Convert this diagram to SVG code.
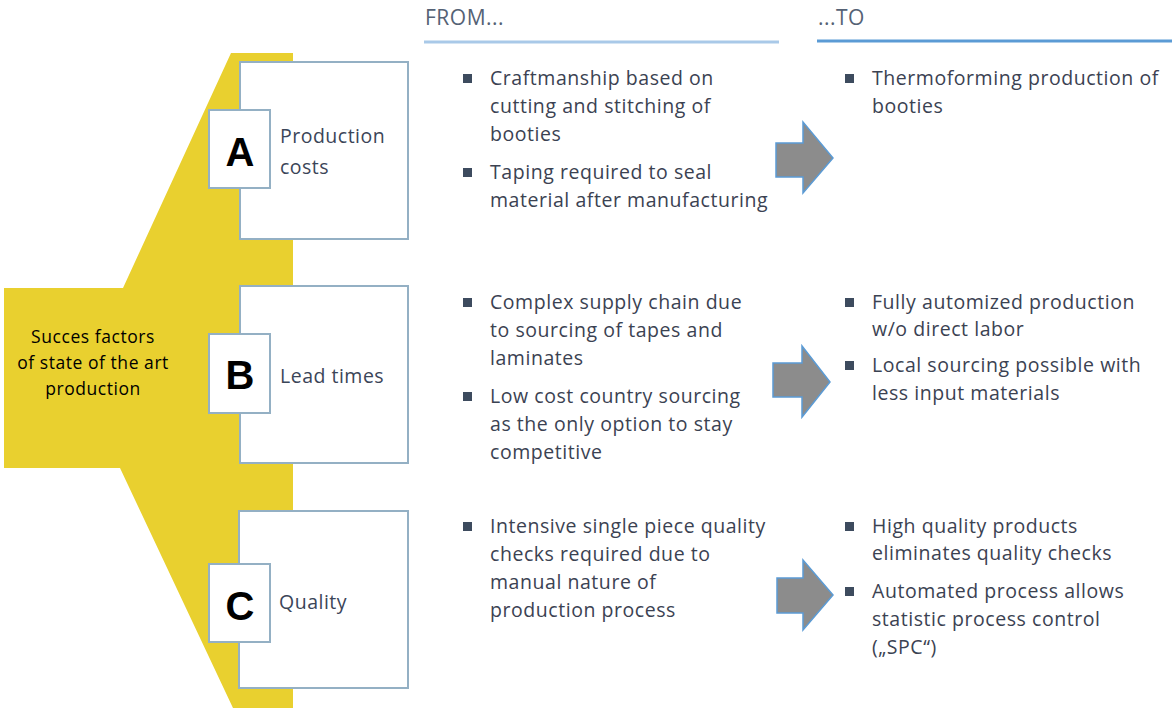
<svg xmlns="http://www.w3.org/2000/svg" width="1172" height="709" viewBox="0 0 1172 709">
<style>
.box{fill:#fff;stroke:#94b0c4;stroke-width:2}
.badge{fill:#fff;stroke:#94b0c4;stroke-width:2}
.letter{font-family:"Liberation Sans",Arial,sans-serif;font-weight:bold;font-size:40px;fill:#000;text-anchor:middle}
.lbl{font-family:"Open Sans","Liberation Sans",sans-serif;font-size:19.5px;letter-spacing:0.5px;fill:#3b4558}
.txt{font-family:"Open Sans","Liberation Sans",sans-serif;font-size:19.5px;letter-spacing:0.55px;fill:#3b4252}
.hdr{font-family:"Open Sans","Liberation Sans",sans-serif;font-size:21px;letter-spacing:0.5px;fill:#556275}
.side{font-family:"Open Sans","Liberation Sans",sans-serif;font-size:17.5px;letter-spacing:0.55px;fill:#000;text-anchor:middle}
.bul{fill:#3d4b5e}
.arrow{fill:#8c8c8c;stroke:#5b9bd5;stroke-width:1.5}
</style>
<rect width="1172" height="709" fill="#fff"/>
<g id="factor-shape">
<polygon points="231,53 293,53 293,708 233,708 120,468 4,468 4,288 123,288" fill="#e9d02f"/>
<text class="side" x="93" y="343">Succes factors</text>
<text class="side" x="93" y="369">of state of the art</text>
<text class="side" x="93" y="395">production</text>
</g>
<g id="headers">
<text class="hdr" x="425" y="25">FROM...</text>
<line x1="424" y1="42" x2="779" y2="42" stroke="#a9c9e8" stroke-width="3"/>
<text class="hdr" x="818" y="25">...TO</text>
<line x1="817" y1="41" x2="1172" y2="41" stroke="#5b9bd5" stroke-width="3"/>
</g>
<g id="node-a">
<rect class="box" x="240" y="62" width="168" height="177"/>
<rect class="badge" x="209" y="110" width="61" height="78"/>
<text class="letter" x="240" y="166">A</text>
<text class="lbl" x="280" y="143">Production</text>
<text class="lbl" x="280" y="174">costs</text>
</g>
<g id="node-b">
<rect class="box" x="240" y="286" width="168" height="177"/>
<rect class="badge" x="209" y="334" width="61" height="79"/>
<text class="letter" x="240" y="389">B</text>
<text class="lbl" x="280" y="383">Lead times</text>
</g>
<g id="node-c">
<rect class="box" x="239" y="511" width="169" height="177"/>
<rect class="badge" x="209" y="564" width="61" height="78"/>
<text class="letter" x="240" y="620">C</text>
<text class="lbl" x="279" y="609">Quality</text>
</g>
<g id="from-a">
<rect class="bul" x="463" y="74" width="9" height="9"/>
<text class="txt" x="490" y="85">Craftmanship based on</text>
<text class="txt" x="490" y="113">cutting and stitching of</text>
<text class="txt" x="490" y="141">booties</text>
<rect class="bul" x="463" y="168" width="9" height="9"/>
<text class="txt" x="490" y="179">Taping required to seal</text>
<text class="txt" x="490" y="207">material after manufacturing</text>
</g>
<g id="to-a">
<rect class="bul" x="845" y="74" width="9" height="9"/>
<text class="txt" x="872" y="85">Thermoforming production of</text>
<text class="txt" x="872" y="113">booties</text>
</g>
<g id="from-b">
<rect class="bul" x="463" y="298" width="9" height="9"/>
<text class="txt" x="490" y="309">Complex supply chain due</text>
<text class="txt" x="490" y="337">to sourcing of tapes and</text>
<text class="txt" x="490" y="365">laminates</text>
<rect class="bul" x="463" y="392" width="9" height="9"/>
<text class="txt" x="490" y="403">Low cost country sourcing</text>
<text class="txt" x="490" y="431">as the only option to stay</text>
<text class="txt" x="490" y="459">competitive</text>
</g>
<g id="to-b">
<rect class="bul" x="845" y="298" width="9" height="9"/>
<text class="txt" x="872" y="309">Fully automized production</text>
<text class="txt" x="872" y="336">w/o direct labor</text>
<rect class="bul" x="845" y="361" width="9" height="9"/>
<text class="txt" x="872" y="372">Local sourcing possible with</text>
<text class="txt" x="872" y="400">less input materials</text>
</g>
<g id="from-c">
<rect class="bul" x="463" y="522" width="9" height="9"/>
<text class="txt" x="490" y="533">Intensive single piece quality</text>
<text class="txt" x="490" y="561">checks required due to</text>
<text class="txt" x="490" y="589">manual nature of</text>
<text class="txt" x="490" y="617">production process</text>
</g>
<g id="to-c">
<rect class="bul" x="845" y="522" width="9" height="9"/>
<text class="txt" x="872" y="533">High quality products</text>
<text class="txt" x="872" y="560">eliminates quality checks</text>
<rect class="bul" x="845" y="587" width="9" height="9"/>
<text class="txt" x="872" y="598">Automated process allows</text>
<text class="txt" x="872" y="626">statistic process control</text>
<text class="txt" x="872" y="654">(„SPC“)</text>
</g>
<g id="connectors">
<polygon class="arrow" points="776,143 803,143 803,122 833,158 803,193 803,177 776,177"/>
<polygon class="arrow" points="773,363 802,363 802,346 830,382 802,417 802,397 773,397"/>
<polygon class="arrow" points="777,578 803,578 803,560 833,595 803,630 803,613 777,613"/>
</g>
</svg>
